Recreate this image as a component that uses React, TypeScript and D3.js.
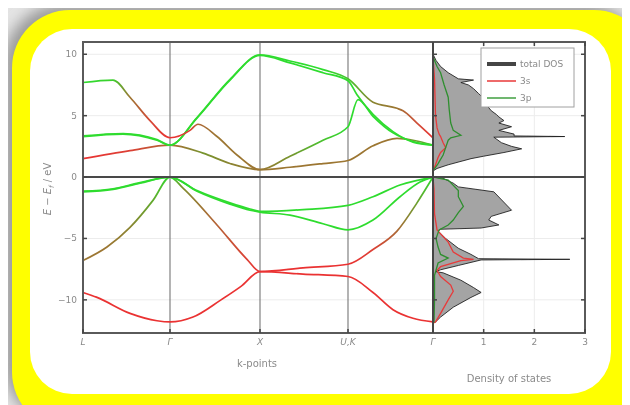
import React, { useEffect, useRef } from 'react';
import * as d3 from 'd3';

// k-path ticks (arbitrary path units) and labels
const kTicks = [0, 0.87, 1.77, 2.65, 3.5];
const kLabels = ['L', 'Γ', 'X', 'U,K', 'Γ'];
const eTicks = [10, 5, 0, -5, -10];
const dosTicks = [1, 2, 3];

// bands: [k, E (eV), s-character 0..1]
const bandV1 = [[0, -9.4, 1], [0.14, -9.8, 1], [0.47, -11.1, 1], [0.74, -11.7, 1], [0.87, -11.8, 1], [1.1, -11.4, 1], [1.38, -10.0, 1], [1.58, -8.9, 1], [1.77, -7.7, 1], [2.2, -7.9, 1], [2.65, -8.1, 1], [2.9, -9.4, 1], [3.1, -10.8, 1], [3.3, -11.5, 1], [3.5, -11.8, 1]];
const bandV2 = [[0, -6.8, 0.5], [0.24, -5.7, 0.5], [0.47, -4.1, 0.4], [0.7, -1.9, 0.2], [0.87, 0, 0], [1.0, -0.9, 0.35], [1.34, -3.9, 0.65], [1.64, -6.7, 0.9], [1.77, -7.7, 1], [2.2, -7.4, 1], [2.65, -7.1, 1], [2.9, -5.9, 0.9], [3.14, -4.4, 0.6], [3.34, -2.1, 0.25], [3.5, 0, 0]];
const bandV3 = [[0, -1.15, 0], [0.3, -0.95, 0], [0.57, -0.45, 0], [0.87, 0, 0], [1.14, -1.1, 0], [1.47, -2.1, 0], [1.67, -2.6, 0], [1.77, -2.8, 0], [2.2, -2.65, 0], [2.65, -2.3, 0], [2.9, -1.6, 0], [3.17, -0.65, 0], [3.5, 0, 0]];
const bandV4 = [[0, -1.2, 0], [0.3, -1.0, 0], [0.57, -0.5, 0], [0.87, 0, 0], [1.14, -1.15, 0], [1.47, -2.2, 0], [1.67, -2.7, 0], [1.77, -2.85, 0], [2.07, -3.1, 0], [2.4, -3.8, 0], [2.65, -4.3, 0], [2.9, -3.5, 0], [3.17, -1.6, 0], [3.37, -0.4, 0], [3.5, 0, 0]];
const bandC1 = [[0, 1.5, 1], [0.47, 2.15, 0.9], [0.87, 2.6, 0.6], [1.2, 1.95, 0.3], [1.47, 1.1, 0.4], [1.77, 0.6, 0.5], [2.07, 0.8, 0.5], [2.4, 1.1, 0.5], [2.65, 1.35, 0.5], [2.9, 2.55, 0.5], [3.14, 3.15, 0.5], [3.3, 3.0, 0.3], [3.5, 2.6, 0.1]];
const bandC2 = [[0, 3.3, 0], [0.4, 3.5, 0], [0.74, 3.0, 0], [0.87, 2.6, 0], [1.14, 4.8, 0], [1.47, 7.9, 0], [1.77, 9.9, 0], [2.07, 9.3, 0], [2.4, 8.5, 0], [2.65, 7.85, 0], [2.74, 6.7, 0], [2.9, 5.1, 0], [3.1, 3.7, 0], [3.3, 2.85, 0], [3.5, 2.6, 0]];
const bandC3 = [[0, 3.35, 0], [0.4, 3.55, 0], [0.74, 3.05, 0], [0.87, 2.6, 0], [1.14, 4.85, 0], [1.47, 7.95, 0], [1.77, 9.95, 0], [2.07, 9.45, 0], [2.4, 8.75, 0], [2.65, 8.0, 0.1], [2.9, 6.1, 0.4], [3.14, 5.6, 0.5], [3.2, 5.4, 0.6], [3.34, 4.4, 0.8], [3.5, 3.2, 1]];
const bandC4 = [[0, 7.7, 0], [0.3, 7.9, 0.05], [0.47, 6.5, 0.5], [0.67, 4.6, 0.85], [0.87, 3.2, 1], [1.07, 3.8, 0.9], [1.15, 4.3, 0.6], [1.34, 3.3, 0.5], [1.54, 1.8, 0.5], [1.77, 0.6, 0.5], [2.07, 1.7, 0.3], [2.4, 3.0, 0.1], [2.65, 4.1, 0], [2.75, 6.3, 0], [2.9, 4.95, 0], [3.1, 3.6, 0], [3.3, 2.9, 0], [3.5, 2.6, 0]];
const bands = [bandV1, bandV2, bandV3, bandV4, bandC1, bandC2, bandC3, bandC4];

// density of states: [E, states/eV]
const dosTotal = [[10.0, 0], [9.5, 0.06], [9.0, 0.15], [8.5, 0.3], [8.0, 0.5], [7.9, 0.8], [7.7, 0.55], [7.5, 0.7], [7.2, 0.8], [6.8, 0.9], [6.4, 1.0], [5.9, 1.05], [5.4, 1.15], [5.1, 1.25], [4.9, 1.3], [4.6, 1.4], [4.4, 1.3], [4.1, 1.55], [3.8, 1.3], [3.5, 1.6], [3.35, 1.6], [3.3, 2.6], [3.25, 1.2], [2.8, 1.35], [2.5, 1.55], [2.3, 1.75], [2.0, 1.4], [1.7, 1.0], [1.5, 0.75], [1.0, 0.3], [0.7, 0.08], [0.5, 0], [0, 0], [-0.1, 0.2], [-0.5, 0.4], [-0.8, 0.5], [-1.2, 1.2], [-2.7, 1.55], [-3.2, 1.15], [-3.5, 1.1], [-3.9, 1.3], [-4.15, 0.95], [-4.25, 0.15], [-4.4, 0.1], [-5.0, 0.25], [-5.8, 0.5], [-6.3, 0.75], [-6.65, 0.9], [-6.7, 2.7], [-6.75, 0.95], [-7.2, 0.5], [-7.55, 0.15], [-7.7, 0.05], [-7.8, 0.2], [-8.4, 0.55], [-9.0, 0.8], [-9.4, 0.95], [-9.8, 0.75], [-10.6, 0.4], [-11.4, 0.15], [-11.8, 0.05], [-11.9, 0]];
const dos3p = [[9.8, 0], [9.0, 0.08], [8.5, 0.15], [7.5, 0.22], [6.5, 0.3], [5.5, 0.32], [4.4, 0.35], [3.8, 0.4], [3.4, 0.55], [3.2, 0.35], [3.0, 0.3], [2.4, 0.25], [1.8, 0.2], [1.1, 0.1], [0.5, 0], [0, 0], [-0.25, 0.3], [-1.1, 0.5], [-1.6, 0.5], [-2.4, 0.6], [-2.9, 0.5], [-3.5, 0.4], [-3.9, 0.3], [-4.3, 0.12], [-5.0, 0.06], [-5.7, 0.1], [-6.3, 0.15], [-6.6, 0.3], [-7.0, 0.1], [-8.0, 0.03], [-10.0, 0.03], [-11.8, 0.02], [-11.9, 0]];
const dos3s = [[9.8, 0], [8.0, 0.03], [5.0, 0.05], [4.0, 0.08], [3.5, 0.12], [3.3, 0.15], [2.8, 0.2], [2.4, 0.25], [2.0, 0.15], [1.6, 0.1], [1.0, 0.05], [0.5, 0], [0, 0], [-1.0, 0.02], [-3.0, 0.03], [-4.3, 0.08], [-5.3, 0.3], [-6.1, 0.4], [-6.6, 0.6], [-6.7, 0.8], [-6.8, 0.55], [-7.3, 0.15], [-7.6, 0.08], [-8.1, 0.15], [-8.8, 0.35], [-9.3, 0.4], [-10.0, 0.3], [-11.1, 0.15], [-11.8, 0.05], [-11.9, 0]];

const legendNames = ['total DOS', '3s', '3p'];
const legendColors = ['#444', '#e83a3a', '#3f9f3f'];

const W = 630;
const H = 405;

export default function App() {
  const svgRef = useRef<SVGSVGElement>(null);

  useEffect(() => {
    if (!svgRef.current) return;
    const svg = d3.select(svgRef.current);
    svg.selectAll('*').remove();

    const left = 83, mid = 433, right = 585, top = 42, bottom = 333;
    const x = d3.scaleLinear().domain([0, 3.5]).range([left, mid]);
    const xd = d3.scaleLinear().domain([0, 3]).range([mid, right]);
    const y = d3.scaleLinear().domain([-12.7, 11]).range([bottom, top]);
    // green (p) -> brown (mixed) -> red (s)
    const mix = d3.interpolateRgbBasis(['#2fdc2f', '#6f9a2c', '#9c7532', '#c8553a', '#ea3232']);
    const font = 'DejaVu Sans, sans-serif';
    const textCol = '#8a8a8a';

    const defs = svg.append('defs');
    const sh = defs.append('filter').attr('id', 'shadow').attr('x', '-20%').attr('y', '-20%').attr('width', '140%').attr('height', '140%');
    sh.append('feGaussianBlur').attr('stdDeviation', 7);
    const soft = defs.append('filter').attr('id', 'soft');
    soft.append('feGaussianBlur').attr('stdDeviation', 0.35);

    // background + frame
    svg.append('rect').attr('width', W).attr('height', H).attr('fill', '#e4e4e4');
    svg.append('rect').attr('x', 4).attr('y', 4).attr('width', 640).attr('height', 420)
      .attr('rx', 60).attr('fill', '#9a9a9a').attr('filter', 'url(#shadow)');
    svg.append('rect').attr('x', 12).attr('y', 10).attr('width', 640).attr('height', 420)
      .attr('rx', 58).attr('fill', '#ffff00');
    svg.append('rect').attr('x', 30).attr('y', 29).attr('width', 581).attr('height', 365)
      .attr('rx', 42).attr('fill', '#ffffff');

    const g = svg.append('g').attr('filter', 'url(#soft)');

    // faint grid
    eTicks.filter(e => e !== 0).forEach(e => {
      g.append('line').attr('x1', left).attr('x2', right).attr('y1', y(e)).attr('y2', y(e))
        .attr('stroke', '#ececec').attr('stroke-width', 1);
    });
    dosTicks.slice(0, 2).forEach(d => {
      g.append('line').attr('x1', xd(d)).attr('x2', xd(d)).attr('y1', top).attr('y2', bottom)
        .attr('stroke', '#ececec').attr('stroke-width', 1);
    });

    // high-symmetry lines
    kTicks.slice(1, 4).forEach(k => {
      g.append('line').attr('x1', x(k)).attr('x2', x(k)).attr('y1', top).attr('y2', bottom)
        .attr('stroke', '#808080').attr('stroke-width', 1.2);
    });

    // bands with s/p colour gradient along k
    const line = d3.line<number[]>().x(d => x(d[0])).y(d => y(d[1])).curve(d3.curveMonotoneX);
    bands.forEach((b, i) => {
      const grad = defs.append('linearGradient').attr('id', `band${i}`)
        .attr('gradientUnits', 'userSpaceOnUse')
        .attr('x1', x(0)).attr('x2', x(3.5)).attr('y1', 0).attr('y2', 0);
      b.forEach(p => {
        grad.append('stop').attr('offset', p[0] / 3.5).attr('stop-color', mix(p[2]));
      });
      g.append('path').attr('d', line(b) as string).attr('fill', 'none')
        .attr('stroke', `url(#band${i})`).attr('stroke-width', 1.7);
    });

    // DOS
    const area = d3.area<number[]>().y(d => y(d[0])).x0(xd(0)).x1(d => xd(d[1]));
    g.append('path').attr('d', area(dosTotal) as string).attr('fill', '#a4a4a4')
      .attr('stroke', '#222').attr('stroke-width', 0.9);
    const dline = d3.line<number[]>().y(d => y(d[0])).x(d => xd(d[1]));
    g.append('path').attr('d', dline(dos3s) as string).attr('fill', 'none')
      .attr('stroke', '#e83a3a').attr('stroke-width', 1.3);
    g.append('path').attr('d', dline(dos3p) as string).attr('fill', 'none')
      .attr('stroke', '#2f8f2f').attr('stroke-width', 1.3);

    // Fermi level
    g.append('line').attr('x1', left).attr('x2', right).attr('y1', y(0)).attr('y2', y(0))
      .attr('stroke', '#484848').attr('stroke-width', 2);

    // frames
    g.append('rect').attr('x', left).attr('y', top).attr('width', right - left).attr('height', bottom - top)
      .attr('fill', 'none').attr('stroke', '#5a5a5a').attr('stroke-width', 2);
    g.append('line').attr('x1', mid).attr('x2', mid).attr('y1', top).attr('y2', bottom)
      .attr('stroke', '#444').attr('stroke-width', 2);

    // ticks
    eTicks.forEach(e => {
      g.append('line').attr('x1', left).attr('x2', left + 4).attr('y1', y(e)).attr('y2', y(e)).attr('stroke', '#444').attr('stroke-width', 1.5);
      g.append('line').attr('x1', mid).attr('x2', mid + 4).attr('y1', y(e)).attr('y2', y(e)).attr('stroke', '#444').attr('stroke-width', 1.5);
      g.append('line').attr('x1', right - 4).attr('x2', right).attr('y1', y(e)).attr('y2', y(e)).attr('stroke', '#444').attr('stroke-width', 1.5);
      g.append('text').attr('x', left - 6).attr('y', y(e) + 3).attr('text-anchor', 'end')
        .attr('font-family', font).attr('font-size', 9).attr('fill', textCol).text(e < 0 ? `−${-e}` : `${e}`);
    });
    dosTicks.forEach(d => {
      g.append('line').attr('x1', xd(d)).attr('x2', xd(d)).attr('y1', bottom).attr('y2', bottom - 4).attr('stroke', '#444').attr('stroke-width', 1.5);
      g.append('line').attr('x1', xd(d)).attr('x2', xd(d)).attr('y1', top).attr('y2', top + 4).attr('stroke', '#444').attr('stroke-width', 1.5);
      g.append('text').attr('x', xd(d)).attr('y', bottom + 12).attr('text-anchor', 'middle')
        .attr('font-family', font).attr('font-size', 9).attr('fill', textCol).text(`${d}`);
    });
    kTicks.forEach((k, i) => {
      g.append('line').attr('x1', x(k)).attr('x2', x(k)).attr('y1', bottom).attr('y2', bottom - 4).attr('stroke', '#444').attr('stroke-width', 1.5);
      g.append('text').attr('x', x(k)).attr('y', bottom + 12).attr('text-anchor', 'middle')
        .attr('font-family', font).attr('font-size', 9).attr('font-style', 'italic').attr('fill', textCol).text(kLabels[i]);
    });

    // axis titles
    g.append('text').attr('x', (left + mid) / 2 - 1).attr('y', 367).attr('text-anchor', 'middle')
      .attr('font-family', font).attr('font-size', 10).attr('fill', textCol).text('k-points');
    g.append('text').attr('x', 509).attr('y', 382).attr('text-anchor', 'middle')
      .attr('font-family', font).attr('font-size', 10).attr('fill', textCol).text('Density of states');
    const yl = g.append('text').attr('transform', `translate(51,${y(0) + 12}) rotate(-90)`)
      .attr('text-anchor', 'middle').attr('font-family', font).attr('font-size', 10).attr('fill', textCol);
    yl.append('tspan').attr('font-style', 'italic').text('E');
    yl.append('tspan').text(' − ');
    yl.append('tspan').attr('font-style', 'italic').text('E');
    yl.append('tspan').attr('font-style', 'italic').attr('font-size', 7).attr('dy', 3).text('f');
    yl.append('tspan').attr('dy', -3).text('  /  eV');

    // legend
    const lg = g.append('g').attr('transform', 'translate(481,48)');
    lg.append('rect').attr('width', 93).attr('height', 59).attr('fill', '#fff').attr('stroke', '#a0a0a0').attr('stroke-width', 1);
    legendNames.forEach((name, i) => {
      const ly = 16 + i * 17;
      lg.append('line').attr('x1', 6).attr('x2', 35).attr('y1', ly).attr('y2', ly)
        .attr('stroke', legendColors[i]).attr('stroke-width', i === 0 ? 4 : 1.5);
      lg.append('text').attr('x', 39).attr('y', ly + 3).attr('font-family', font).attr('font-size', 9)
        .attr('fill', textCol).text(name);
    });
  }, []);

  return (
    <div style={{ width: W, height: H, marginLeft: -8, marginTop: -8 }}>
      <svg ref={svgRef} width={W} height={H} style={{ display: 'block' }}></svg>
    </div>
  );
}
